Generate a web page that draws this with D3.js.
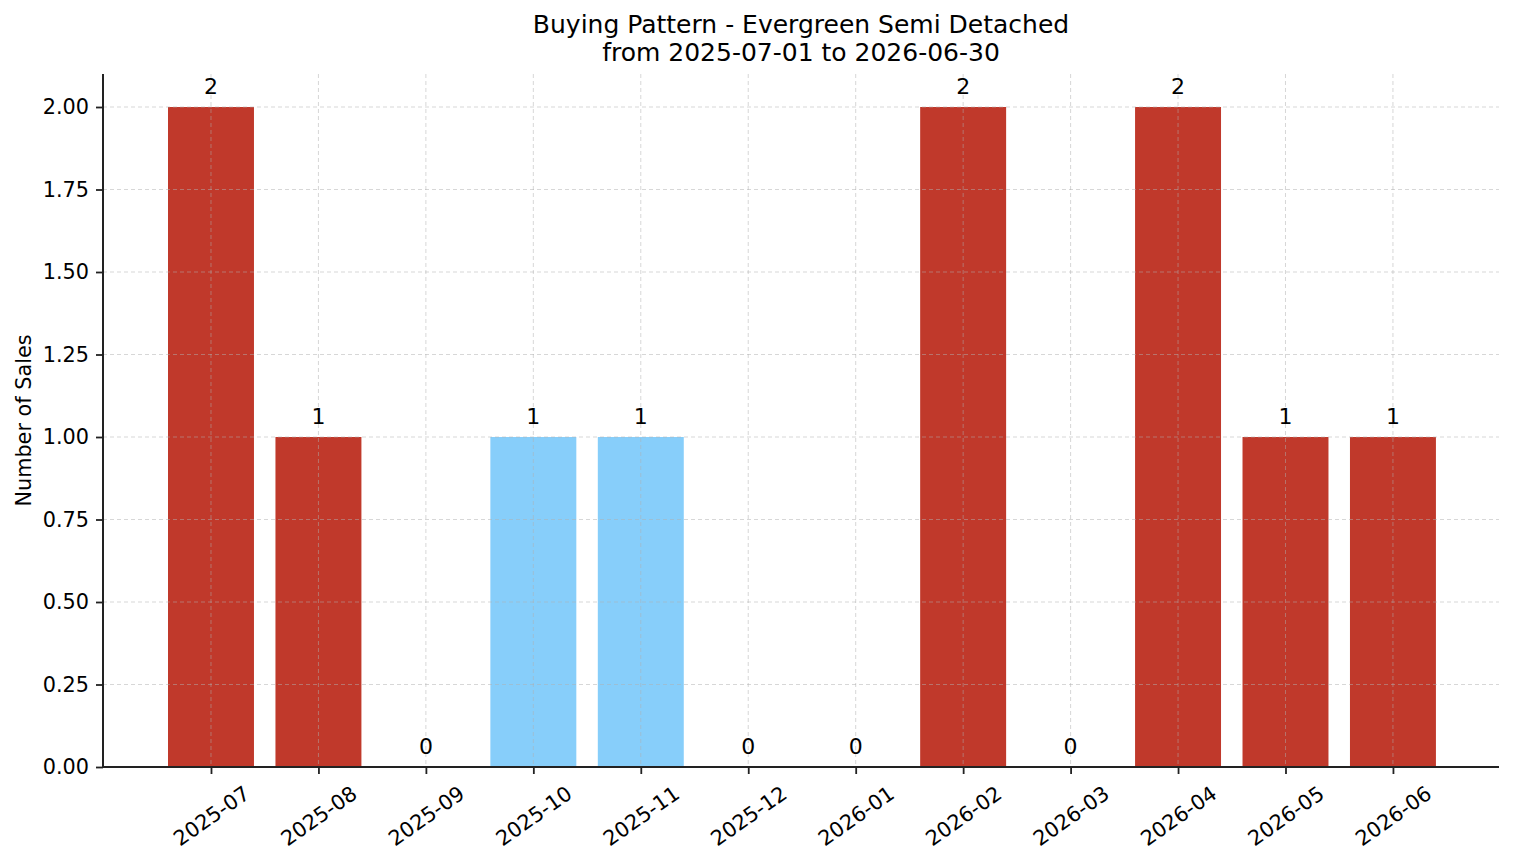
<!DOCTYPE html>
<html>
<head>
  <meta charset="utf-8">
  <title>Buying Pattern</title>
  <style>
    body { margin: 0; background: white; }
    text { font-family: "DejaVu Sans", sans-serif; fill: #000; }
    .grid line { stroke: #b0b0b0; stroke-opacity: 0.5; stroke-dasharray: 4,3; stroke-width: 1px; }
  </style>
</head>
<body>
  <div id="chart"></div>
  <script src="https://d3js.org/d3.v7.min.js"></script>
  <script>
    const months = ["2025-07", "2025-08", "2025-09", "2025-10", "2025-11", "2025-12",
                    "2026-01", "2026-02", "2026-03", "2026-04", "2026-05", "2026-06"];
    const sales = [2, 1, 0, 1, 1, 0, 0, 2, 0, 2, 1, 1];
    const highlighted = ["2025-10", "2025-11"];
    const yTicks = [0, 0.25, 0.5, 0.75, 1.0, 1.25, 1.5, 1.75, 2.0];
    const titleLines = ["Buying Pattern - Evergreen Semi Detached", "from 2025-07-01 to 2026-06-30"];

    const width = 1514, height = 863;
    const plotLeft = 103, plotRight = 1499, plotTop = 74, plotBottom = 767;
    const tickFont = 20.8;

    const svg = d3.select("#chart").append("svg")
      .attr("width", width)
      .attr("height", height);

    // index-based scale like matplotlib bar (width 0.8, auto margins)
    const xScale = d3.scaleLinear()
      .domain([-1.005, months.length - 1 + 0.987])
      .range([plotLeft, plotRight]);
    const yScale = d3.scaleLinear()
      .domain([0, 2.1])
      .range([plotBottom, plotTop]);
    const barW = xScale(0.8) - xScale(0);

    // bars
    svg.selectAll(".bar")
      .data(months)
      .enter()
      .append("rect")
      .attr("class", "bar")
      .attr("x", (d, i) => xScale(i) - barW / 2)
      .attr("y", (d, i) => yScale(sales[i]))
      .attr("width", barW)
      .attr("height", (d, i) => yScale(0) - yScale(sales[i]))
      .attr("fill", d => highlighted.includes(d) ? "#87cefa" : "#c0392b");

    // grid on top of bars
    const grid = svg.append("g").attr("class", "grid");
    grid.selectAll(".gy")
      .data(yTicks)
      .enter()
      .append("line")
      .attr("x1", plotLeft).attr("x2", plotRight)
      .attr("y1", d => yScale(d)).attr("y2", d => yScale(d));
    grid.selectAll(".gx")
      .data(months)
      .enter()
      .append("line")
      .attr("x1", (d, i) => xScale(i)).attr("x2", (d, i) => xScale(i))
      .attr("y1", plotTop).attr("y2", plotBottom);

    // value labels
    svg.selectAll(".val")
      .data(months)
      .enter()
      .append("text")
      .attr("x", (d, i) => xScale(i))
      .attr("y", (d, i) => yScale(sales[i]) - 13)
      .attr("text-anchor", "middle")
      .style("font-size", "22px")
      .text((d, i) => sales[i]);

    // y axis
    const yAxis = d3.axisLeft(yScale)
      .tickValues(yTicks)
      .tickFormat(d3.format(".2f"))
      .tickSize(7)
      .tickPadding(7);
    const gy = svg.append("g")
      .attr("transform", "translate(" + plotLeft + ",0)")
      .call(yAxis);
    gy.select(".domain").attr("d", "M0," + plotTop + "V" + plotBottom);

    // x axis
    const xAxis = d3.axisBottom(xScale)
      .tickValues(d3.range(months.length))
      .tickFormat(i => months[i])
      .tickSize(7)
      .tickSizeOuter(0);
    const gx = svg.append("g")
      .attr("transform", "translate(0," + plotBottom + ")")
      .call(xAxis);
    gx.select(".domain").attr("d", "M" + plotLeft + ",0H" + plotRight);

    [gx, gy].forEach(g => {
      g.select(".domain").attr("stroke", "#222").attr("stroke-width", 2);
      g.selectAll(".tick line").attr("stroke", "#222").attr("stroke-width", 1.8);
      g.selectAll(".tick text")
        .style("font-size", tickFont + "px")
        .style("font-family", "DejaVu Sans")
        .attr("fill", "#000");
    });

    // rotate x tick labels, center of rotated box under tick
    const ang = 35 * Math.PI / 180;
    gx.selectAll(".tick text").each(function () {
      const t = d3.select(this);
      const w = this.getComputedTextLength();
      const h = tickFont * 1.17;
      const boxH = w * Math.sin(ang) + h * Math.cos(ang);
      t.attr("y", null).attr("dy", "0.35em")
        .attr("text-anchor", "middle")
        .attr("transform", "translate(0," + (14 + boxH / 2) + ") rotate(-35)");
    });

    // y label
    svg.append("text")
      .attr("transform", "translate(31," + ((plotTop + plotBottom) / 2) + ") rotate(-90)")
      .attr("text-anchor", "middle")
      .style("font-size", tickFont + "px")
      .text("Number of Sales");

    // title
    svg.selectAll(".title")
      .data(titleLines)
      .enter()
      .append("text")
      .attr("x", (plotLeft + plotRight) / 2)
      .attr("y", (d, i) => 33 + i * 28)
      .attr("text-anchor", "middle")
      .style("font-size", "25px")
      .text(d => d);
  </script>
</body>
</html>
